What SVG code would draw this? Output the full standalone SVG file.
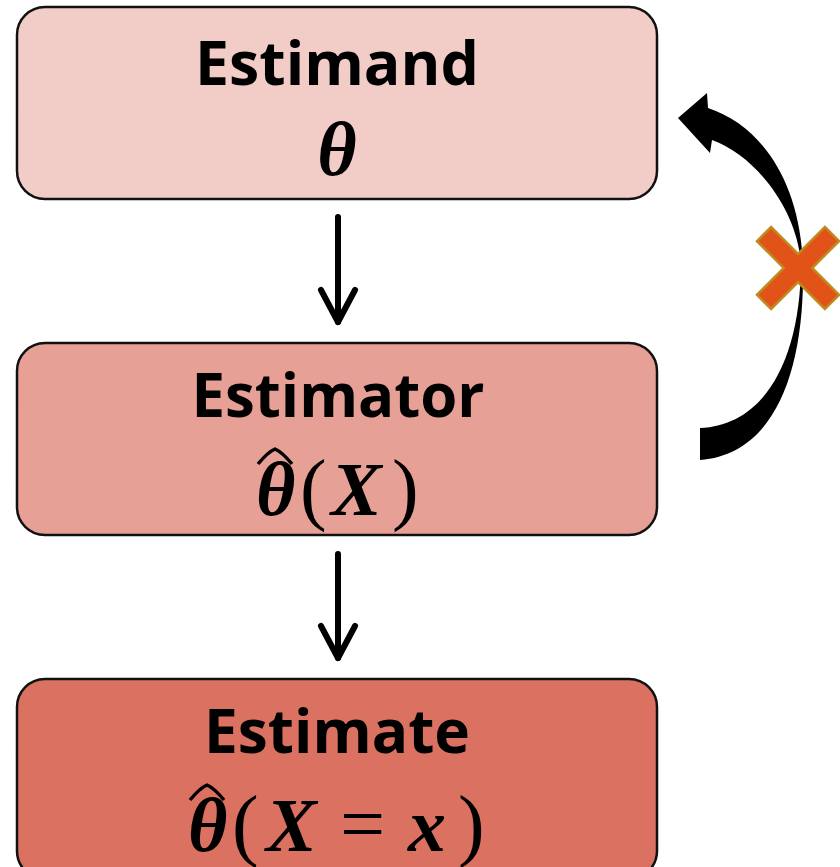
<svg xmlns="http://www.w3.org/2000/svg" width="840" height="867" viewBox="0 0 840 867">
<style>
.box{stroke:#111;stroke-width:2.5}
.t{font-family:"Open Sans","Liberation Sans",sans-serif;font-weight:bold;font-size:60px;fill:#000;text-anchor:middle}
.m{font-family:"Liberation Serif","DejaVu Serif",serif;font-weight:bold;font-style:italic;font-size:76px;fill:#000}
.p{font-family:"Liberation Serif","DejaVu Serif",serif;font-weight:normal;font-size:80px;fill:#000}
.hat{fill:none;stroke:#000;stroke-width:3.5;stroke-linejoin:round}
.ar{fill:none;stroke:#000;stroke-width:6;stroke-linecap:round;stroke-linejoin:round}
</style>
<rect width="840" height="867" fill="#fff"/>
<g id="estimand">
<rect class="box" x="17" y="7" width="640" height="192" rx="28" fill="#F2CDC7"/>
<text class="t" x="337" y="85" textLength="284" lengthAdjust="spacingAndGlyphs">Estimand</text>
<text class="m" x="337" y="175" text-anchor="middle">θ</text>
</g>
<g id="estimator">
<rect class="box" x="17" y="343" width="640" height="192" rx="28" fill="#E6A095"/>
<text class="t" x="338" y="417" textLength="293" lengthAdjust="spacingAndGlyphs">Estimator</text>
<text class="m" x="256" y="515">θ</text>
<text class="p" x="300" y="515">(</text>
<text class="m" x="331" y="515">X</text>
<text class="p" x="392" y="515">)</text>
<path class="hat" d="M258 464 Q268 452 275 449 Q282 452 292 464"/>
</g>
<g id="estimate">
<rect class="box" x="17" y="679" width="640" height="200" rx="28" fill="#DB7160"/>
<text class="t" x="337" y="753" textLength="266" lengthAdjust="spacingAndGlyphs">Estimate</text>
<text class="m" x="188" y="851">θ</text>
<text class="p" x="232" y="851">(</text>
<text class="m" x="266" y="851">X</text>
<text class="p" x="340" y="851">=</text>
<text class="m" x="408" y="851">x</text>
<text class="p" x="458" y="851">)</text>
<path class="hat" d="M190 800 Q200 788 207 785 Q214 788 224 800"/>
</g>
<g id="connectors">
<line class="ar" x1="338" y1="217" x2="338" y2="322"/>
<polyline class="ar" points="321,290 338,322 355,290"/>
<line class="ar" x1="338" y1="554" x2="338" y2="658"/>
<polyline class="ar" points="321,626 338,658 355,626"/>
<path d="M700 428 L700 460 C770 455 805 380 803 265 C800 180 760 125 708 108 L707 93 L678 118 L710 153 L712 140 C755 155 798 210 801 265 C800 360 765 425 700 428 Z" fill="#000"/>
</g>
<g id="cross" transform="translate(798,268) rotate(45)">
<polygon points="-10,-48 10,-48 10,-10 48,-10 48,10 10,10 10,48 -10,48 -10,10 -48,10 -48,-10 -10,-10" fill="#E2531A" stroke="#BF8A1E" stroke-width="2.5"/>
</g>
</svg>
